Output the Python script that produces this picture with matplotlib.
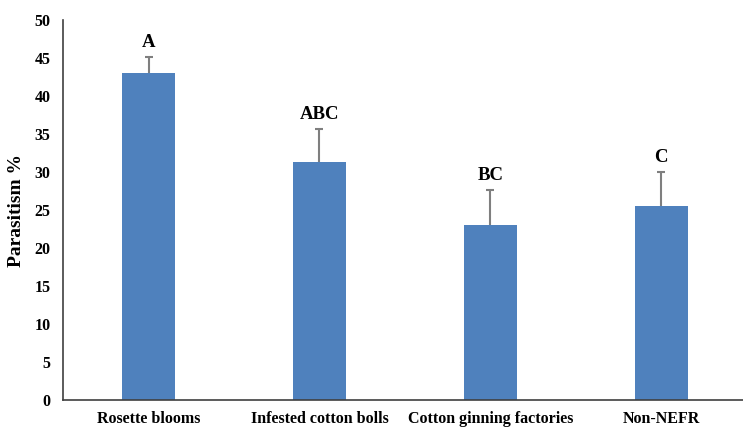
import matplotlib
matplotlib.use("Agg")
import matplotlib.pyplot as plt
import numpy as np

categories = ["Rosette blooms", "Infested cotton bolls", "Cotton ginning factories", "Non-NEFR"]
parasitism = [43.0, 31.3, 23.1, 25.6]
errors = [2.1, 4.4, 4.6, 4.4]
letters = ["A", "ABC", "BC", "C"]

plt.rcParams["font.family"] = ["Liberation Serif", "DejaVu Serif"]
plt.rcParams["font.weight"] = "bold"

fig = plt.figure(figsize=(7.43, 4.28), dpi=100)
ax = fig.add_axes([0.085, 0.065, 0.92, 0.888])

x = np.arange(len(categories))
vals = np.array(parasitism)
errs = np.array(errors)
ax.bar(x, vals, width=0.31, color="#4F81BD", zorder=2)
# upper-only error bars with a cap at the top
ax.vlines(x, vals, vals + errs, color="#7f7f7f", linewidth=1.5, zorder=1)
ax.scatter(x, vals + errs, marker="_", s=40, color="#7f7f7f", linewidths=1.5, zorder=1)

for xi, v, e, t in zip(x, vals, errs, letters):
    ax.text(xi, v + e + 0.8, t, ha="center", va="bottom", fontsize=13.5, fontweight="bold")

ax.set_xlim(-0.5, 3.5)
ax.set_ylim(0, 50)
ax.set_yticks(np.arange(0, 51, 5))
ax.set_xticks(x)
ax.set_xticklabels(categories, fontsize=11.5, fontweight="bold")
ax.tick_params(axis="y", length=0, labelsize=11.5, pad=9)
ax.tick_params(axis="x", length=0, pad=8)
for lbl in ax.get_yticklabels():
    lbl.set_fontweight("bold")
ax.set_ylabel("Parasitism %", fontsize=14, fontweight="bold", labelpad=7)

ax.spines["top"].set_visible(False)
ax.spines["right"].set_visible(False)
ax.spines["left"].set_color("#404040")
ax.spines["bottom"].set_color("#404040")
ax.spines["left"].set_linewidth(1.2)
ax.spines["bottom"].set_linewidth(1.2)

fig.savefig("out.png", dpi=100)
